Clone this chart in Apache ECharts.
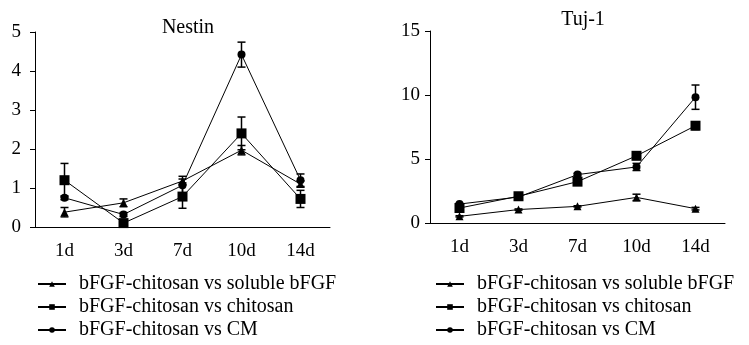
<!DOCTYPE html>
<html><head><meta charset="utf-8">
<script src="https://cdn.jsdelivr.net/npm/echarts@6/dist/echarts.min.js"></script>
<style>html,body{margin:0;padding:0;background:#fff}#c{width:749px;height:345px}</style>
</head><body><div id="c"></div>
<script>
const days = ['1d','3d','7d','10d','14d'];
const seriesNames = ['bFGF-chitosan vs soluble bFGF','bFGF-chitosan vs chitosan','bFGF-chitosan vs CM'];
// Nestin
const nestinSoluble = [0.38, 0.62, 1.18, 1.97, 1.10];
const nestinSolubleErr = [0.12, 0.10, 0.05, 0.12, 0.08];
const nestinChitosan = [1.20, 0.10, 0.78, 2.40, 0.72];
const nestinChitosanErr = [0.43, 0.05, 0.30, 0.42, 0.22];
const nestinCM = [0.75, 0.32, 1.07, 4.42, 1.20];
const nestinCMErr = [0.05, 0.05, 0.23, 0.32, 0.16];
// Tuj-1
const tujSoluble = [0.52, 1.05, 1.30, 2.00, 1.12];
const tujSolubleErr = [0.05, 0.05, 0.05, 0.25, 0.10];
const tujChitosan = [1.17, 2.09, 3.23, 5.25, 7.60];
const tujChitosanErr = [0.05, 0.10, 0.10, 0.10, 0.30];
const tujCM = [1.48, 2.03, 3.78, 4.38, 9.83];
const tujCMErr = [0.05, 0.05, 0.10, 0.28, 0.95];
const nestinTicks = [0, 1, 2, 3, 4, 5];
const tujTicks = [0, 5, 10, 15];

const FONT = 'Liberation Serif';
const symbols = ['triangle', 'rect', 'circle'];
const symSizes = [8, 10, 8];

function errSeries(vals, errs, idx) {
  return {
    type: 'custom', xAxisIndex: idx, yAxisIndex: idx, silent: true, z: 1,
    data: vals.map((v, i) => [i, v - errs[i], v + errs[i]]),
    renderItem: function (params, api) {
      const lo = api.coord([api.value(0), api.value(1)]);
      const hi = api.coord([api.value(0), api.value(2)]);
      const w = 4;
      const st = { stroke: '#000', lineWidth: 1.5 };
      return { type: 'group', children: [
        { type: 'line', shape: { x1: hi[0], y1: hi[1], x2: lo[0], y2: lo[1] }, style: st },
        { type: 'line', shape: { x1: hi[0] - w, y1: hi[1], x2: hi[0] + w, y2: hi[1] }, style: st },
        { type: 'line', shape: { x1: lo[0] - w, y1: lo[1], x2: lo[0] + w, y2: lo[1] }, style: st }
      ]};
    }
  };
}
function lineSeries(name, vals, k, idx) {
  return {
    name: name, type: 'line', xAxisIndex: idx, yAxisIndex: idx, data: vals,
    symbol: symbols[k], symbolSize: symSizes[k], showAllSymbol: true, z: 3,
    lineStyle: { color: '#000', width: 1 }, itemStyle: { color: '#000' },
    emphasis: { disabled: true }, animation: false
  };
}
const axisText = { color: '#000', fontFamily: FONT, fontSize: 19 };
function xAx(idx) {
  return { type: 'category', gridIndex: idx, data: days, boundaryGap: true,
    axisLine: { lineStyle: { color: '#000', width: 1 } },
    axisTick: { alignWithLabel: true, length: 5, lineStyle: { color: '#000' } },
    axisLabel: Object.assign({ margin: 15 }, axisText) };
}
function yAx(idx, ticks, margin) {
  return { type: 'value', gridIndex: idx, min: ticks[0], max: ticks[ticks.length - 1],
    interval: ticks[1] - ticks[0], splitLine: { show: false },
    axisLine: { show: true, lineStyle: { color: '#000', width: 1 } },
    axisTick: { show: true, length: 5, lineStyle: { color: '#000' } },
    axisLabel: Object.assign({ margin: margin }, axisText) };
}
function legend(left) {
  return { orient: 'vertical', left: left, top: 274, padding: 0, height: 70, itemGap: 3, itemWidth: 28, itemHeight: 7,
    data: seriesNames, selectedMode: false,
    textStyle: { color: '#000', fontFamily: FONT, fontSize: 20, lineHeight: 20, padding: [0, 0, 0, 8] } };
}
const chart = echarts.init(document.getElementById('c'), null, { renderer: 'canvas' });
chart.setOption({
  animation: false,
  backgroundColor: '#fff',
  title: [
    { text: 'Nestin', left: 183, top: 13, textAlign: 'center', textStyle: { color: '#000', fontFamily: FONT, fontSize: 20, fontWeight: 'normal' } },
    { text: 'Tuj-1', left: 578, top: 5, textAlign: 'center', textStyle: { color: '#000', fontFamily: FONT, fontSize: 20, fontWeight: 'normal' } }
  ],
  grid: [
    { left: 35, right: 419, top: 32, bottom: 118 },
    { left: 430, right: 24, top: 31, bottom: 122 }
  ],
  xAxis: [xAx(0), xAx(1)],
  yAxis: [yAx(0, nestinTicks, 14), yAx(1, tujTicks, 10)],
  legend: [legend(37), legend(435)],
  series: [
    errSeries(nestinSoluble, nestinSolubleErr, 0),
    errSeries(nestinChitosan, nestinChitosanErr, 0),
    errSeries(nestinCM, nestinCMErr, 0),
    lineSeries(seriesNames[0], nestinSoluble, 0, 0),
    lineSeries(seriesNames[1], nestinChitosan, 1, 0),
    lineSeries(seriesNames[2], nestinCM, 2, 0),
    errSeries(tujSoluble, tujSolubleErr, 1),
    errSeries(tujChitosan, tujChitosanErr, 1),
    errSeries(tujCM, tujCMErr, 1),
    lineSeries(seriesNames[0], tujSoluble, 0, 1),
    lineSeries(seriesNames[1], tujChitosan, 1, 1),
    lineSeries(seriesNames[2], tujCM, 2, 1)
  ]
});
</script></body></html>
